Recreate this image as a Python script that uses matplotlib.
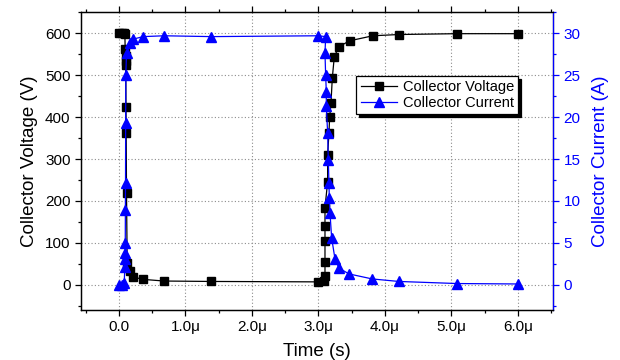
import matplotlib
matplotlib.use("Agg")
import matplotlib.pyplot as plt
from matplotlib.ticker import MultipleLocator

plt.rcParams["font.family"] = ["Liberation Sans", "DejaVu Sans"]

# ---- data (time in microseconds) ----
time_v = [0.00, 0.04, 0.08, 0.09, 0.095, 0.10, 0.102, 0.104, 0.107, 0.11,
          0.115, 0.125, 0.16, 0.21, 0.36, 0.68, 1.39, 3.00, 3.09, 3.10,
          3.10, 3.10, 3.10, 3.10, 3.14, 3.14, 3.16, 3.17, 3.19, 3.21,
          3.24, 3.31, 3.47, 3.82, 4.21, 5.09, 6.00]
voltage = [600, 600, 600, 598, 563, 545, 533, 525, 424, 362,
           218, 52, 32, 19, 13, 9, 8, 7, 9, 20,
           54, 105, 141, 184, 246, 310, 363, 400, 433, 493,
           544, 568, 582, 594, 597, 599, 599]

time_i = [0.00, 0.04, 0.08, 0.09, 0.092, 0.094, 0.096, 0.098, 0.10, 0.102,
          0.104, 0.115, 0.165, 0.215, 0.365, 0.68, 1.39, 3.00, 3.11, 3.10,
          3.11, 3.12, 3.12, 3.14, 3.15, 3.16, 3.165, 3.175, 3.20, 3.25,
          3.31, 3.46, 3.81, 4.21, 5.09, 6.00]
current = [0.0, 0.0, 0.2, 2.1, 3.1, 3.8, 5.0, 8.9, 12.1, 19.3,
           25.0, 27.6, 28.8, 29.3, 29.6, 29.7, 29.6, 29.7, 29.6, 27.6,
           25.0, 23.0, 21.3, 18.1, 14.9, 12.1, 10.3, 8.6, 5.6, 3.1,
           2.0, 1.3, 0.7, 0.4, 0.15, 0.1]

x_ticks = [0, 1, 2, 3, 4, 5, 6]
x_labels = ["0.0", "1.0μ", "2.0μ", "3.0μ", "4.0μ", "5.0μ", "6.0μ"]

blue = "#0000ff"

fig = plt.figure(figsize=(6.2, 3.6), dpi=100)
ax = fig.add_axes([0.1306, 0.139, 0.7614, 0.828])
ax2 = ax.twinx()

# ---- collector voltage ----
l1, = ax.plot(time_v, voltage, color="black", lw=0.9, marker="s",
              markersize=5.8, label="Collector Voltage")
ax.set_xlim(-0.57, 6.53)
ax.set_ylim(-60, 651)
ax.set_xticks(x_ticks)
ax.set_xticklabels(x_labels)
ax.xaxis.set_minor_locator(MultipleLocator(0.5))
ax.set_yticks(range(0, 601, 100))
ax.yaxis.set_minor_locator(MultipleLocator(50))
ax.grid(True, which="major", color="#8c8c8c", linestyle=(0, (1, 2)), lw=0.8)
ax.set_axisbelow(True)
ax.tick_params(which="both", direction="out", labelsize=11, width=0.9,
               top=True, right=False)
ax.tick_params(which="major", length=4)
ax.tick_params(which="minor", length=2.2)
ax.set_xlabel("Time (s)", fontsize=13.5, labelpad=6)
ax.set_ylabel("Collector Voltage (V)", fontsize=13.5, labelpad=5)

# ---- collector current ----
l2, = ax2.plot(time_i, current, color=blue, lw=0.9, marker="^",
               markersize=6.8, label="Collector Current")
ax2.set_ylim(-3, 32.55)
ax2.set_yticks(range(0, 31, 5))
ax2.yaxis.set_minor_locator(MultipleLocator(2.5))
ax2.tick_params(axis="y", which="both", direction="out", colors=blue,
                labelsize=11, width=0.9)
ax2.tick_params(axis="y", which="major", length=4)
ax2.tick_params(axis="y", which="minor", length=2.2)
ax2.set_ylabel("Collector Current (A)", fontsize=13.5, color=blue, labelpad=8)

for a in (ax, ax2):
    for s in a.spines.values():
        s.set_linewidth(0.9)
ax2.spines["right"].set_color(blue)

leg = ax2.legend(handles=[l1, l2], loc="upper left",
                 bbox_to_anchor=(0.583, 0.785), fontsize=10.5,
                 fancybox=False, edgecolor="black", framealpha=1,
                 shadow={"color": "black", "alpha": 1},
                 borderpad=0.3, labelspacing=0.1, handlelength=2.5,
                 handletextpad=0.4, borderaxespad=0)
leg.get_frame().set_linewidth(0.9)

plt.savefig("out.png", dpi=100)
plt.close()
